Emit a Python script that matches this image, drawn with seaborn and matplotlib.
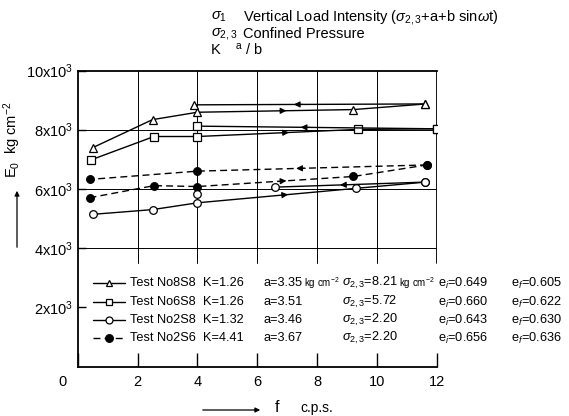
import numpy as np
import matplotlib
matplotlib.use("Agg")
import matplotlib.pyplot as plt
import matplotlib.transforms as mtransforms
from matplotlib.lines import Line2D
from matplotlib.patches import FancyArrowPatch
import seaborn as sns

sns.set_theme(style="white")
plt.rcParams.update({
    "font.family": ["Liberation Sans", "DejaVu Sans"],
    "mathtext.fontset": "custom",
    "mathtext.rm": "Liberation Sans",
    "mathtext.it": "Liberation Sans:italic",
    "mathtext.bf": "Liberation Sans:bold",
    "axes.edgecolor": "black",
    "axes.linewidth": 1.3,
    "text.color": "black",
    "xtick.color": "black",
    "ytick.color": "black",
})

# Test No8S8 (triangles)
f_8s8_up = [0.5, 2.5, 4.0, 9.2, 11.6]
e_8s8_up = [7390, 8340, 8590, 8680, 8870]
f_8s8_down = [11.6, 3.9]
e_8s8_down = [8870, 8840]

# Test No6S8 (squares)
f_6s8_up = [0.45, 2.55, 4.0, 9.35, 12.0]
e_6s8_up = [6980, 7770, 7770, 8010, 8030]
f_6s8_down = [12.0, 4.0]
e_6s8_down = [8030, 8120]

# Test No2S8 (open circles)
f_2s8_up = [0.5, 2.5, 4.0, 9.3, 11.6]
e_2s8_up = [5140, 5300, 5530, 6020, 6230]
f_2s8_down = [11.6, 6.6]
e_2s8_down = [6230, 6060]
f_2s8_extra = [4.0]
e_2s8_extra = [5830]

# Test No2S6 (filled circles, dashed)
f_2s6_up = [0.4, 2.55, 4.0, 9.2, 11.65]
e_2s6_up = [5700, 6110, 6080, 6420, 6810]
f_2s6_down = [11.65, 4.0, 0.4]
e_2s6_down = [6810, 6600, 6320]

x_ticks = [0, 2, 4, 6, 8, 10, 12]
y_ticks = [2000, 4000, 6000, 8000, 10000]
y_tick_labels = [r"2x10$^3$", r"4x10$^3$", r"6x10$^3$", r"8x10$^3$", r"10x10$^3$"]

test_names = ["Test No8S8", "Test No6S8", "Test No2S8", "Test No2S6"]
k_vals = ["1.26", "1.26", "1.32", "4.41"]
a_vals = ["3.35", "3.51", "3.46", "3.67"]
s_vals = ["8.21", "5.72", "2.20", "2.20"]
ei_vals = ["0.649", "0.660", "0.643", "0.656"]
ef_vals = ["0.605", "0.622", "0.630", "0.636"]

W, H = 569, 416
fig = plt.figure(figsize=(W / 100, H / 100), dpi=100)
ax = fig.add_axes([77.5 / W, 1 - 366.5 / H, 360 / W, 296 / H])


def fx(px):
    return px / W


def fy(py):
    return 1 - py / H


styles = {
    "8s8": dict(marker="^", mfc="white", ls="-"),
    "6s8": dict(marker="s", mfc="white", ls="-"),
    "2s8": dict(marker="o", mfc="white", ls="-"),
    "2s6": dict(marker="o", mfc="black", ls=(0, (5, 3))),
}

paths = [
    ("8s8", f_8s8_up, e_8s8_up), ("8s8", f_8s8_down, e_8s8_down),
    ("6s8", f_6s8_up, e_6s8_up), ("6s8", f_6s8_down, e_6s8_down),
    ("2s8", f_2s8_up, e_2s8_up), ("2s8", f_2s8_down, e_2s8_down),
    ("2s6", f_2s6_up, e_2s6_up), ("2s6", f_2s6_down, e_2s6_down),
]

for key, xs, ys in paths:
    st = styles[key]
    sns.lineplot(x=xs, y=ys, sort=False, estimator=None, ax=ax, color="black",
                 linewidth=1.0, linestyle=st["ls"], marker=st["marker"],
                 markersize=5.5, markerfacecolor=st["mfc"],
                 markeredgecolor="black", markeredgewidth=0.9, zorder=3)
    # direction arrow on the longest segment
    xa, ya = np.array(xs), np.array(ys)
    seg = np.hypot(np.diff(xa) / 12, np.diff(ya) / 10000)
    i = int(np.argmax(seg))
    mx = xa[i] + 0.55 * (xa[i + 1] - xa[i])
    my = ya[i] + 0.55 * (ya[i + 1] - ya[i])
    dx = (xa[i + 1] - xa[i]) * 0.02
    dy = (ya[i + 1] - ya[i]) * 0.02
    ax.annotate("", xy=(mx + dx, my + dy), xytext=(mx - dx, my - dy),
                arrowprops=dict(arrowstyle="-|>", color="black", lw=0.8,
                                mutation_scale=9, shrinkA=0, shrinkB=0))

sns.scatterplot(x=f_2s8_extra, y=e_2s8_extra, ax=ax, marker="o", s=30,
                facecolor="white", edgecolor="black", linewidth=0.9, zorder=3)

ax.set_xlim(0, 12)
ax.set_ylim(0, 10000)

# grid: horizontal lines full width, vertical lines stop above the table
for yv in y_ticks[1:4]:
    ax.axhline(yv, color="black", lw=0.7, zorder=1)
for xv in x_ticks[1:6]:
    ax.axvline(xv, ymin=0.35, ymax=1, color="black", lw=0.7, zorder=1)
ax.spines["right"].set_visible(False)
ax.axvline(12, ymin=0.35, ymax=1, color="black", lw=1.3, zorder=1)

ax.set_xticks(x_ticks)
ax.set_xticklabels([str(v) for v in x_ticks], fontsize=10.5)
ax.set_yticks(y_ticks)
ax.set_yticklabels(y_tick_labels, fontsize=10.5)
ax.tick_params(axis="x", direction="in", length=10, width=1.0, pad=6,
               top=False, bottom=True)
ax.tick_params(axis="y", direction="in", length=6, width=1.0, pad=3,
               left=True, right=False)
zero_lbl = ax.get_xticklabels()[0]
zero_lbl.set_transform(zero_lbl.get_transform() +
                       mtransforms.ScaledTranslation(-0.15, 0, fig.dpi_scale_trans))

# axis labels with arrows
fig.text(fx(12), fy(140), r"E$_0$  kg cm$^{-2}$", rotation=90, fontsize=10.5,
         ha="center", va="center")
fig.add_artist(FancyArrowPatch(
    (fx(17), fy(250)), (fx(17), fy(188)), transform=fig.transFigure,
    arrowstyle="-|>", mutation_scale=7, color="black", lw=0.9))
fig.add_artist(FancyArrowPatch(
    (fx(200), fy(410)), (fx(263), fy(410)), transform=fig.transFigure,
    arrowstyle="-|>", mutation_scale=7, color="black", lw=0.9))
fig.text(fx(277), fy(408), "f", fontsize=11.5, ha="center", va="center")
fig.text(fx(300), fy(408), "c.p.s.", fontsize=10, ha="left", va="center")

# header notes
hs = 10.5
fig.text(fx(211), fy(17), r"$\sigma_1$", fontsize=hs, ha="left", va="center")
fig.text(fx(243), fy(17), r"Vertical Load Intensity ($\sigma_{2,3}$+a+b sin$\omega$t)",
         fontsize=hs, ha="left", va="center")
fig.text(fx(211), fy(34), r"$\sigma_{2,3}$", fontsize=hs, ha="left", va="center")
fig.text(fx(243), fy(34), "Confined Pressure", fontsize=hs, ha="left", va="center")
fig.text(fx(211), fy(50), "K", fontsize=hs, ha="left", va="center")
fig.text(fx(235), fy(50), r"$^{\mathrm{a}}$ / b", fontsize=hs, ha="left", va="center")

# table legend
ts = 9.2
row_y = [283, 302, 320, 338]
renderer = fig.canvas.get_renderer()
for r, key in enumerate(["8s8", "6s8", "2s8", "2s6"]):
    st = styles[key]
    y = fy(row_y[r])
    fig.add_artist(Line2D([fx(93), fx(125)], [y, y], transform=fig.transFigure,
                          color="black", lw=1.0, ls=st["ls"]))
    fig.add_artist(Line2D([fx(109)], [y], transform=fig.transFigure,
                          marker=st["marker"], ms=5.5 if st["mfc"] == "black" else 5,
                          mfc=st["mfc"], mec="black", mew=0.9, ls="none"))
    fig.text(fx(130), y, test_names[r], fontsize=ts, va="center")
    fig.text(fx(203), y, "K=" + k_vals[r], fontsize=ts, va="center")
    t_a = fig.text(fx(264), y, "a=" + a_vals[r], fontsize=ts, va="center")
    t_s = fig.text(fx(342), y, r"$\sigma_{2,3}$=" + s_vals[r], fontsize=ts, va="center")
    fig.text(fx(438), y, r"e$_i$=" + ei_vals[r], fontsize=ts, va="center")
    fig.text(fx(511), y, r"e$_f$=" + ef_vals[r], fontsize=ts, va="center")
    if r == 0:
        # units follow the first row's values directly
        for t in (t_a, t_s):
            x1 = t.get_window_extent(renderer).x1
            fig.text((x1 + 1) / W, y, r"kg cm$^{-2}$", fontsize=7, va="center")

fig.savefig("out.png", dpi=100)
